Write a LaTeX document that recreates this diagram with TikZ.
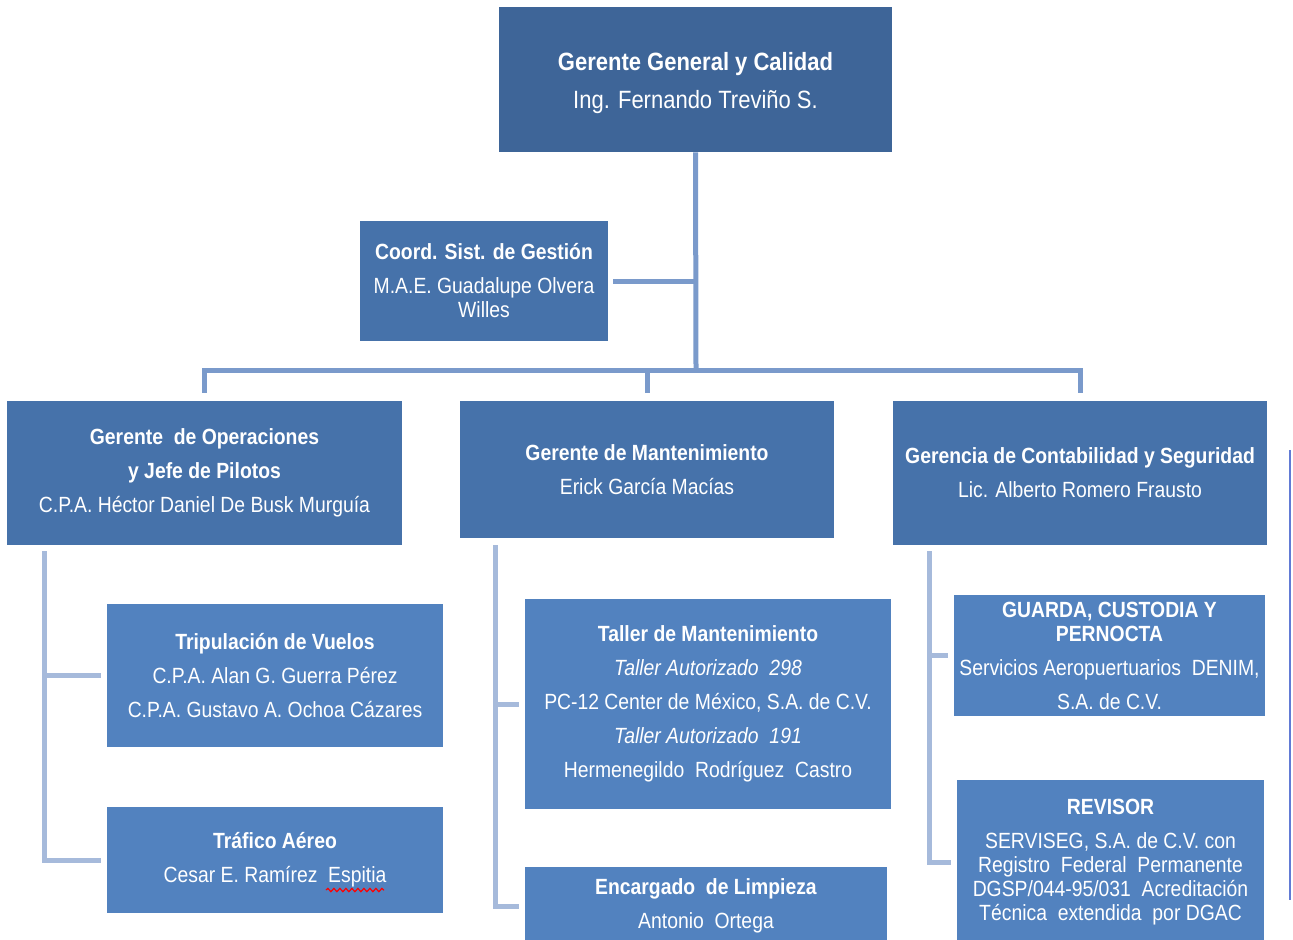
\documentclass[tikz,border=0pt]{standalone}
\usepackage{fontspec}
\setmainfont[FakeStretch=0.88]{Liberation Sans}
\usetikzlibrary{decorations.pathmorphing}
\definecolor{topc}{HTML}{3E6598}
\definecolor{midc}{HTML}{4672AA}
\definecolor{lowc}{HTML}{5282BF}
\definecolor{connc}{HTML}{7A9ACB}
\definecolor{branchc}{HTML}{A6BADB}
\begin{document}
\begin{tikzpicture}[x=0.5pt,y=-0.5pt,
  orgbox/.style={draw=none,fill=#1,text=white,inner sep=0pt,align=center,
    font=\fontsize{11}{12}\selectfont},
  conn/.style={draw=connc,line width=2.5pt},
  branch/.style={draw=branchc,line width=2.5pt},
]
\useasboundingbox (0,0) rectangle (1293,939);
% boxes
\node[orgbox=topc,minimum width=196.5pt,minimum height=72.5pt] (top) at (695.5,79.5)
  {\fontsize{12.5}{12}\selectfont\rule{0pt}{13pt}\textbf{Gerente General y Calidad}\\[7pt]\fontsize{12.5}{12}\selectfont Ing. Fernando Treviño S.};
\node[orgbox=midc,minimum width=124pt,minimum height=60pt] (coord) at (484,281)
  {\textbf{Coord. Sist. de Gestión}\\[5pt]M.A.E. Guadalupe Olvera\\Willes};
\node[orgbox=midc,minimum width=197.5pt,minimum height=72pt] (ops) at (204.5,473)
  {\textbf{Gerente\ \ de Operaciones}\\[5pt]\textbf{y Jefe de Pilotos}\\[5pt]C.P.A. Héctor Daniel De Busk Murguía};
\node[orgbox=midc,minimum width=187pt,minimum height=68.5pt] (mant) at (647,469.5)
  {\textbf{Gerente de Mantenimiento}\\[5pt]Erick García Macías};
\node[orgbox=midc,minimum width=187pt,minimum height=72pt] (cont) at (1080,473)
  {\textbf{Gerencia de Contabilidad y Seguridad}\\[5pt]Lic. Alberto Romero Frausto};
\node[orgbox=lowc,minimum width=168pt,minimum height=71.5pt] (trip) at (275,675.5)
  {\textbf{Tripulación de Vuelos}\\[5pt]C.P.A. Alan G. Guerra Pérez\\[5pt]C.P.A. Gustavo A. Ochoa Cázares};
\node[orgbox=lowc,minimum width=168pt,minimum height=53pt] (traf) at (275,860)
  {\textbf{Tráfico Aéreo}\\[5pt]Cesar E. Ramírez\ \ Espitia};
\node[orgbox=lowc,minimum width=183pt,minimum height=105pt] (taller) at (708,704)
  {\textbf{Taller de Mantenimiento}\\[5pt]\textit{Taller Autorizado\ \ 298}\\[5pt]PC-12 Center de México, S.A. de C.V.\\[5pt]\textit{Taller Autorizado\ \ 191}\\[5pt]Hermenegildo\ \ Rodríguez\ \ Castro};
\node[orgbox=lowc,minimum width=181pt,minimum height=39pt] (limp) at (706,906)
  {\textbf{Encargado\ \ de Limpieza}\\[5pt]Antonio\ \ Ortega};
\node[orgbox=lowc,minimum width=155.5pt,minimum height=60.5pt] (guarda) at (1109.5,655.5)
  {\textbf{GUARDA,\ CUSTODIA Y}\\\textbf{PERNOCTA}\\[5pt]Servicios Aeropuertuarios\ \ DENIM,\\[5pt]S.A. de C.V.};
\node[orgbox=lowc,minimum width=153.5pt,minimum height=82.5pt] (rev) at (1110.5,862.5)
  {\textbf{REVISOR}\\[5pt]SERVISEG, S.A. de C.V. con\\Registro\ \ Federal\ \ Permanente\\DGSP/044-95/031\ \ Acreditación\\Técnica\ \ extendida\ \ por DGAC};
% main connectors
\coordinate (hub) at (696,370);
\coordinate (cj) at (696,281);
\coordinate (bL) at (204.5,370);
\coordinate (bM) at (647,370);
\coordinate (bR) at (1080,370);
\draw[conn] (top.south) -- (hub);
\draw[conn] ([xshift=2.5pt]coord.east) -- (cj);
\draw[conn] ([yshift=4pt]ops.north) -- (bL) -- (bR) -- ([yshift=4pt]cont.north);
\draw[conn] (bM) -- ([yshift=4pt]mant.north);
% left branch
\coordinate (l1) at (44,551);
\coordinate (l3) at (44,860);
\draw[branch] (l1) -- (l3) -- ([xshift=-3pt]traf.west);
\draw[branch] (l1 |- trip.west) -- ([xshift=-3pt]trip.west);
% middle branch
\coordinate (m1) at (495,545);
\coordinate (m3) at (495,906);
\draw[branch] (m1) -- (m3) -- ([xshift=-3pt]limp.west);
\draw[branch] (m1 |- taller.west) -- ([xshift=-3pt]taller.west);
% right branch
\coordinate (r1) at (929,551);
\coordinate (r3) at (929,862.5);
\draw[branch] (r1) -- (r3) -- ([xshift=-3pt]rev.west);
\draw[branch] (r1 |- guarda.west) -- ([xshift=-3pt]guarda.west);
% stray line at right edge
\coordinate (s1) at (1290,450);
\coordinate (s2) at (1290,900);
\draw[draw=connc!80!blue,line width=1pt] (s1) -- (s2);
% spell-check underline
\coordinate (w1) at (326,890);
\coordinate (w2) at (384,890);
\draw[red,line width=0.6pt,decorate,decoration={snake,amplitude=0.8pt,segment length=3pt}] (w1) -- (w2);
\end{tikzpicture}
\end{document}
